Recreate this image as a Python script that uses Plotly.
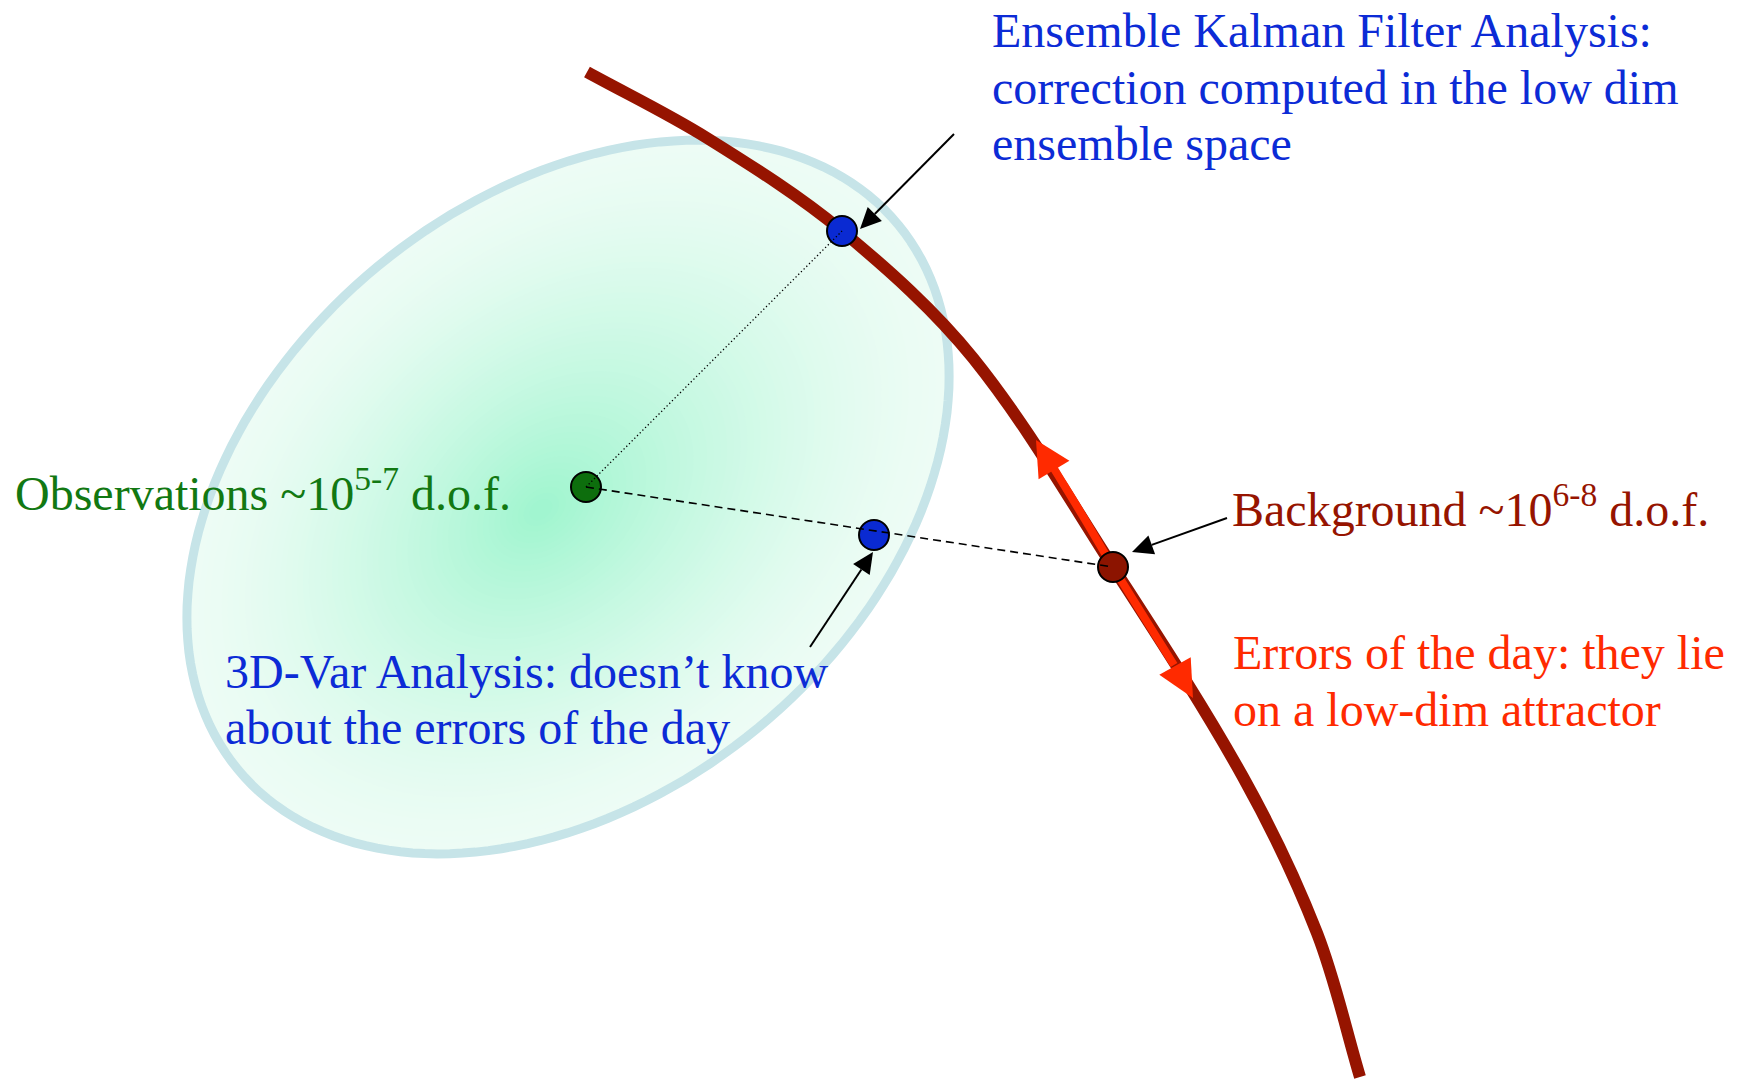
import numpy as np
import plotly.graph_objects as go

W, H = 1739, 1080

# ---- diagram geometry (pixel space, y pointing down) ----
curve_x = [587, 707, 842, 973, 1113, 1243, 1317, 1360]
curve_y = [72, 138, 231, 358, 567, 777, 933, 1077]

err_x = [1053, 1084, 1113, 1144, 1174]
err_y = [467, 518, 567, 617, 665]
err_up_tip, err_up_base = (1036, 440), (1054, 470)
err_dn_tip, err_dn_base = (1193, 698), (1175, 666)

obs_pt = (586, 487)
enkf_pt = (842, 231)
var_pt = (874, 535)
bg_pt = (1113, 567)

ellipse_center = (568, 497)
ellipse_axes = (428, 299)
ellipse_angle = -39.5
gradient_focus = (540, 510)

arrows = [  # (start, tip)
    ((954, 134), (860, 229)),
    ((810, 647), (873, 552)),
    ((1227, 518), (1132, 552)),
]

labels = [
    ("Ensemble Kalman Filter Analysis:", 990, 48, "#0c2bd6"),
    ("correction computed in the low dim", 990, 105, "#0c2bd6"),
    ("ensemble space", 990, 161, "#0c2bd6"),
    ("Observations ~10<sup>5-7</sup> d.o.f.", 13, 511, "#127812"),
    ("Background ~10<sup>6-8</sup> d.o.f.", 1230, 527, "#961400"),
    ("Errors of the day: they lie", 1231, 670, "#ff2a00"),
    ("on a low-dim attractor", 1231, 727, "#ff2a00"),
    ("3D-Var Analysis: doesn\u2019t know", 223, 689, "#0c2bd6"),
    ("about the errors of the day", 223, 745, "#0c2bd6"),
]

FONT = "Liberation Serif, Times New Roman, serif"
FS = 48

fig = go.Figure()
shapes = []


def ellipse_path(cx, cy, a, b, ang_deg, n=180):
    t = np.linspace(0, 2 * np.pi, n, endpoint=False)
    ca, sa = np.cos(np.radians(ang_deg)), np.sin(np.radians(ang_deg))
    xs = cx + a * np.cos(t) * ca - b * np.sin(t) * sa
    ys = cy + a * np.cos(t) * sa + b * np.sin(t) * ca
    return "M " + " L ".join(f"{x:.1f},{y:.1f}" for x, y in zip(xs, ys)) + " Z"


def smooth_path(xs, ys):
    """Cubic Bezier path through the given knots (G1-continuous)."""
    P = np.array(list(zip(xs, ys)), dtype=float)
    n = len(P)
    U = []
    for i in range(n):
        if i == 0:
            d = P[1] - P[0]
        elif i == n - 1:
            d = P[-1] - P[-2]
        else:
            d = P[i + 1] - P[i - 1]
        U.append(d / np.hypot(*d))
    out = f"M {P[0][0]:.1f},{P[0][1]:.1f}"
    for i in range(n - 1):
        L = np.hypot(*(P[i + 1] - P[i]))
        c1 = P[i] + U[i] * L / 3
        c2 = P[i + 1] - U[i + 1] * L / 3
        out += (f" C {c1[0]:.1f},{c1[1]:.1f} {c2[0]:.1f},{c2[1]:.1f} "
                f"{P[i+1][0]:.1f},{P[i+1][1]:.1f}")
    return out


# radial-like gradient fill made of nested ellipses
edge = np.array([237, 252, 245])
centre = np.array([158, 245, 206])
N = 60
for s in np.linspace(1.0, 0.03, N):
    f = (1 - s) ** 1.4
    col = edge + (centre - edge) * f
    cx = gradient_focus[0] + s * (ellipse_center[0] - gradient_focus[0])
    cy = gradient_focus[1] + s * (ellipse_center[1] - gradient_focus[1])
    shapes.append(dict(type="path", path=ellipse_path(cx, cy, ellipse_axes[0] * s, ellipse_axes[1] * s, ellipse_angle),
                       fillcolor=f"rgb({col[0]:.0f},{col[1]:.0f},{col[2]:.0f})", line=dict(width=0), layer="below"))
# outline
shapes.append(dict(type="path", path=ellipse_path(*ellipse_center, *ellipse_axes, ellipse_angle),
                   fillcolor="rgba(0,0,0,0)", line=dict(color="#c6e4e8", width=9), layer="below"))

# attractor curve and errors-of-the-day segment (below the point markers)
shapes.append(dict(type="path", path=smooth_path(curve_x, curve_y), fillcolor="rgba(0,0,0,0)",
                   line=dict(color="#961400", width=12), layer="below"))
shapes.append(dict(type="path", path=smooth_path(err_x, err_y), fillcolor="rgba(0,0,0,0)",
                   line=dict(color="#ff2a00", width=8), layer="below"))


def head(tip, base, half_w):
    dx, dy = tip[0] - base[0], tip[1] - base[1]
    L = np.hypot(dx, dy)
    px, py = -dy / L * half_w, dx / L * half_w
    return (f"M {tip[0]},{tip[1]} L {base[0]+px:.1f},{base[1]+py:.1f} "
            f"L {base[0]-px:.1f},{base[1]-py:.1f} Z")


for tip, base in [(err_up_tip, err_up_base), (err_dn_tip, err_dn_base)]:
    shapes.append(dict(type="path", path=head(tip, base, 18), fillcolor="#ff2a00",
                       line=dict(width=0), layer="above"))

# points
pts = [obs_pt, enkf_pt, var_pt, bg_pt]
fig.add_trace(go.Scatter(x=[p[0] for p in pts], y=[p[1] for p in pts], mode="markers",
                         marker=dict(size=30, color=["#0d6e0d", "#0a2ad2", "#0a2ad2", "#8c1400"],
                                     line=dict(color="black", width=2)), hoverinfo="skip"))

# dotted and dashed connection lines (over the points)
fig.add_trace(go.Scatter(x=[obs_pt[0], enkf_pt[0]], y=[obs_pt[1], enkf_pt[1]], mode="lines",
                         line=dict(color="black", width=1.3, dash="1.3px,2.5px"), hoverinfo="skip"))
fig.add_trace(go.Scatter(x=[obs_pt[0], bg_pt[0]], y=[obs_pt[1], bg_pt[1]], mode="lines",
                         line=dict(color="black", width=1.6, dash="8px,5px"), hoverinfo="skip"))

# black pointer arrows
for start, tip in arrows:
    dx, dy = tip[0] - start[0], tip[1] - start[1]
    L = np.hypot(dx, dy)
    base = (tip[0] - dx / L * 21, tip[1] - dy / L * 21)
    fig.add_trace(go.Scatter(x=[start[0], base[0]], y=[start[1], base[1]], mode="lines",
                             line=dict(color="black", width=2), hoverinfo="skip"))
    shapes.append(dict(type="path", path=head(tip, base, 10), fillcolor="black",
                       line=dict(width=0), layer="above"))

annotations = []
for text, x, baseline, color in labels:
    annotations.append(dict(x=x, y=baseline + 11, xref="x", yref="y", text=text, showarrow=False,
                            xanchor="left", yanchor="bottom", align="left",
                            font=dict(family=FONT, size=FS, color=color)))

fig.update_layout(
    width=W, height=H, margin=dict(l=0, r=0, t=0, b=0),
    paper_bgcolor="white", plot_bgcolor="white", showlegend=False,
    xaxis=dict(range=[0, W], visible=False, fixedrange=True),
    yaxis=dict(range=[H, 0], visible=False, fixedrange=True),
    shapes=shapes, annotations=annotations,
)

fig.write_html("out.html", config={"displayModeBar": False},
               post_script="document.body.style.margin='0';document.body.style.overflow='hidden';")
